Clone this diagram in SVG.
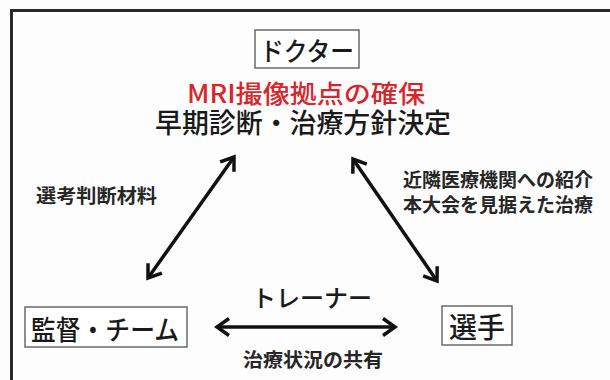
<svg xmlns="http://www.w3.org/2000/svg" width="610" height="380" viewBox="0 0 610 380">
  <style>
    text { font-family: "Noto Sans CJK JP", "Noto Sans", sans-serif; fill: #1a1a1a; dominant-baseline: central; }
    .big { font-size: 27px; text-anchor: middle; font-weight: 500; }
    .lbl { font-size: 19px; font-weight: bold; fill: #262626; }
    .box { fill: #fff; stroke: #6a6a6a; stroke-width: 1.5; }
    .arr { stroke: #111; stroke-width: 3.5; fill: none; marker-start: url(#head); marker-end: url(#head); }
  </style>
  <defs>
    <marker id="head" markerUnits="userSpaceOnUse" markerWidth="30" markerHeight="30" viewBox="-15 -15 30 30" refX="0" refY="0" orient="auto-start-reverse" overflow="visible">
      <path d="M-12,-8.5 L0,0 L-12,8.5" fill="none" stroke="#111" stroke-width="3.5" stroke-linejoin="miter"/>
    </marker>
  </defs>
  <rect width="610" height="380" fill="#fdfdfd"/>
  <path d="M11.5,380 V10.5 H610" fill="none" stroke="#2a2a2a" stroke-width="3"/>

  <g id="connectors">
    <line class="arr" x1="234" y1="157" x2="148" y2="278"/>
    <line class="arr" x1="353" y1="159" x2="437" y2="281"/>
    <line class="arr" x1="217" y1="327" x2="395" y2="327"/>
  </g>

  <g id="doctor">
    <rect class="box" x="255" y="30" width="104" height="38"/>
    <text class="big" x="307" y="49.5" style="font-size:26px" textLength="94" lengthAdjust="spacingAndGlyphs">ドクター</text>
    <text class="big"><tspan x="306" y="91.5" style="font-size:25px;fill:#d8262c" textLength="238" lengthAdjust="spacingAndGlyphs">MRI撮像拠点の確保</tspan><tspan x="303" y="120.5" style="font-size:27.5px" textLength="296" lengthAdjust="spacingAndGlyphs">早期診断・治療方針決定</tspan></text>
  </g>

  <g id="label-left">
    <text class="lbl" x="96.5" y="194" text-anchor="middle" textLength="121" lengthAdjust="spacingAndGlyphs">選考判断材料</text>
  </g>

  <g id="label-right">
    <text class="lbl"><tspan x="403" y="177.5">近隣医療機関への紹介</tspan><tspan x="403" y="202.5">本大会を見据えた治療</tspan></text>
  </g>

  <g id="team">
    <rect class="box" x="25" y="307" width="162" height="40"/>
    <text class="big" x="105" y="328.5" textLength="148" lengthAdjust="spacingAndGlyphs">監督・チーム</text>
  </g>

  <g id="player">
    <rect class="box" x="442" y="306" width="70" height="39"/>
    <text class="big" x="477" y="326" style="font-size:28px">選手</text>
  </g>

  <g id="trainer">
    <text class="big" x="312" y="296" style="font-size:24px">トレーナー</text>
    <text class="lbl" x="313" y="358" text-anchor="middle" textLength="140" lengthAdjust="spacingAndGlyphs">治療状況の共有</text>
  </g>
</svg>
